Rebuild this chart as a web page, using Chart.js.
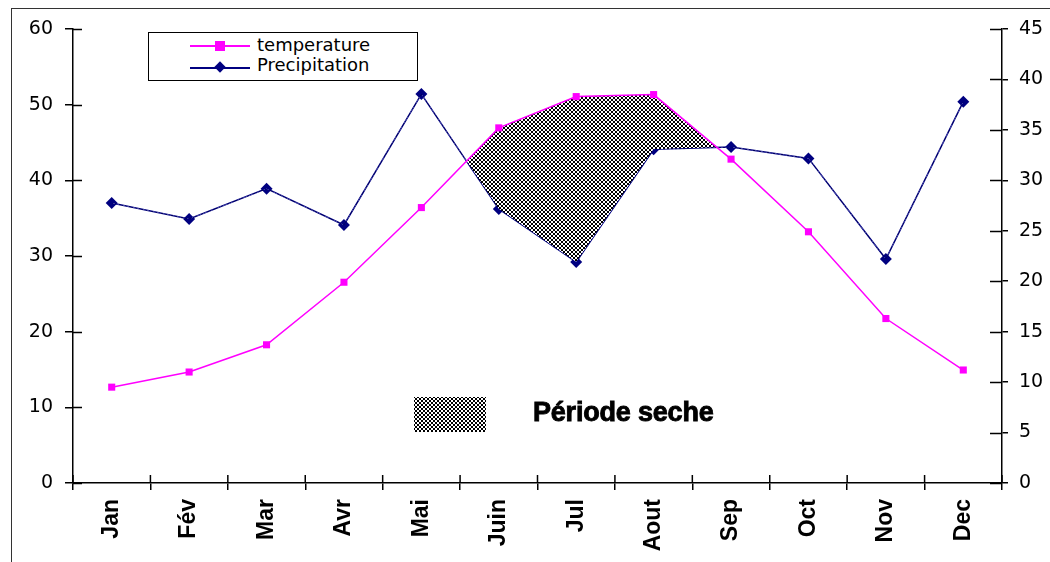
<!DOCTYPE html>
<html>
<head>
<meta charset="utf-8">
<script src="https://cdn.jsdelivr.net/npm/chart.js@4/dist/chart.umd.min.js"></script>
<style>
  html,body{margin:0;padding:0;background:#fff;}
  #wrap{position:relative;width:1050px;height:562px;overflow:hidden;}
  #frame{position:absolute;left:11px;top:8px;width:1100px;height:600px;border-left:1.5px solid #333;border-top:1.5px solid #333;}
  canvas{position:absolute;left:0;top:0;}
  #legend{position:absolute;left:148px;top:32px;width:268px;height:47px;border:1.5px solid #000;background:#fff;}
  .ln{position:absolute;height:1.5px;}
  .txt{position:absolute;font-family:'DejaVu Sans',sans-serif;font-size:18px;color:#000;line-height:20px;white-space:nowrap;}
  #dryKey{position:absolute;left:414px;top:397px;width:72px;height:35px;}
  #dryTxt{position:absolute;left:533px;top:397px;font-family:'Liberation Sans',Arial,sans-serif;font-weight:bold;font-size:27px;color:#000;-webkit-text-stroke:0.9px #000;white-space:nowrap;letter-spacing:-0.2px;}
</style>
</head>
<body>
<div id="wrap">
  <div id="frame"></div>
  <canvas id="c" width="1050" height="562"></canvas>
  <div id="legend">
    <div class="ln" style="left:41px;top:12px;width:60px;background:#ff00ff;"></div>
    <div style="position:absolute;left:66px;top:8px;width:10px;height:10px;background:#ff00ff;"></div>
    <div class="txt" style="left:108px;top:2px;">temperature</div>
    <div class="ln" style="left:41px;top:34px;width:60px;background:#000080;"></div>
    <div style="position:absolute;left:67px;top:30px;width:8px;height:8px;background:#000080;transform:rotate(45deg);"></div>
    <div class="txt" style="left:108px;top:22px;">Precipitation</div>
  </div>
  <div id="dryKey"></div>
  <div id="dryTxt">Période seche</div>
</div>
<script>
// ---- data ----
const months = ['Jan','Fév','Mar','Avr','Mai','Juin','Jul','Aout','Sep','Oct','Nov','Dec'];
const temperature = [9.5, 11.0, 13.7, 19.9, 27.3, 35.2, 38.3, 38.5, 32.1, 24.9, 16.3, 11.2];
const precipitation = [37.0, 34.9, 38.9, 34.1, 51.4, 36.2, 29.2, 44.1, 44.4, 42.9, 29.6, 50.4];
const leftTicks = [0, 10, 20, 30, 40, 50, 60];
const rightTicks = [0, 5, 10, 15, 20, 25, 30, 35, 40, 45];

// ---- hatch pattern ----
const tile = document.createElement('canvas');
tile.width = 4; tile.height = 4;
const tg = tile.getContext('2d');
tg.fillStyle = '#ffffff'; tg.fillRect(0,0,4,4);
tg.fillStyle = '#000000';
[[0,0],[1,1],[2,2],[3,3],[3,0],[2,1],[1,2],[0,3]].forEach(p => tg.fillRect(p[0],p[1],1,1));
const hatch = tg.createPattern(tile, 'repeat');
const keyEl = document.getElementById('dryKey');
keyEl.style.backgroundImage = 'url(' + tile.toDataURL() + ')';

// inner tick marks (ticks crossing the axis lines)
const innerTicks = {
  id: 'innerTicks',
  afterDraw(chart) {
    const ctx = chart.ctx;
    const {x, y, y1} = chart.scales;
    ctx.save();
    ctx.strokeStyle = '#000';
    ctx.lineWidth = 1.5;
    ctx.beginPath();
    y.ticks.forEach((t, i) => {
      const py = Math.round(y.getPixelForTick(i)) + 0.5;
      ctx.moveTo(y.right, py); ctx.lineTo(y.right + 9, py);
    });
    y1.ticks.forEach((t, i) => {
      const py = Math.round(y1.getPixelForTick(i)) + 0.5;
      ctx.moveTo(y1.left, py); ctx.lineTo(y1.left - 12, py);
    });
    for (let i = 0; i <= months.length; i++) {
      const px = x.getPixelForValue(i - 0.5);
      ctx.moveTo(px, x.top); ctx.lineTo(px, x.top - 8);
    }
    ctx.stroke();
    ctx.restore();
  }
};

const tickFont = {family: "'DejaVu Sans', sans-serif", size: 19};
const tickColor = '#000';

new Chart(document.getElementById('c'), {
  type: 'line',
  data: {
    labels: months,
    datasets: [
      {
        label: 'temperature',
        data: temperature,
        yAxisID: 'y1',
        borderColor: '#ff00ff',
        backgroundColor: '#ff00ff',
        borderWidth: 1.5,
        pointStyle: 'rect',
        pointRadius: 5,
        pointBorderWidth: 0,
        tension: 0,
        fill: {target: 1, above: hatch, below: 'rgba(0,0,0,0)'}
      },
      {
        label: 'Precipitation',
        data: precipitation,
        yAxisID: 'y',
        borderColor: '#000080',
        backgroundColor: '#000080',
        borderWidth: 1.5,
        pointStyle: 'rectRot',
        pointRadius: 6,
        pointBorderWidth: 0,
        tension: 0,
        fill: false
      }
    ]
  },
  options: {
    responsive: false,
    animation: false,
    layout: {padding: {top: 29, left: 0, right: 0, bottom: 0}},
    plugins: {
      legend: {display: false},
      tooltip: {enabled: false}
    },
    scales: {
      x: {
        type: 'category',
        offset: true,
        grid: {display: true, drawOnChartArea: false, offset: true, tickLength: 7, color: '#000', lineWidth: 1.5},
        border: {display: true, color: '#000', width: 1.5},
        ticks: {minRotation: 90, maxRotation: 90, autoSkip: false, padding: 9, color: '#000',
                font: {family: "'Liberation Sans', Arial, sans-serif", weight: 'bold', size: 23}},
        afterFit(s) { s.height = 79; }
      },
      y: {
        position: 'left',
        min: 0, max: 60,
        afterBuildTicks(s) { s.ticks = leftTicks.map(v => ({value: v})); },
        grid: {display: true, drawOnChartArea: false, tickLength: 8, color: '#000', lineWidth: 1.5},
        border: {display: true, color: '#000', width: 1.5},
        ticks: {padding: 12, color: tickColor, font: tickFont},
        afterFit(s) { s.width = 73; }
      },
      y1: {
        position: 'right',
        min: 0, max: 45,
        afterBuildTicks(s) { s.ticks = rightTicks.map(v => ({value: v})); },
        grid: {display: true, drawOnChartArea: false, tickLength: 6, color: '#000', lineWidth: 1.5},
        border: {display: true, color: '#000', width: 1.5},
        ticks: {padding: 11, color: tickColor, font: tickFont},
        afterFit(s) { s.width = 48; }
      }
    }
  },
  plugins: [innerTicks]
});
</script>
</body>
</html>
